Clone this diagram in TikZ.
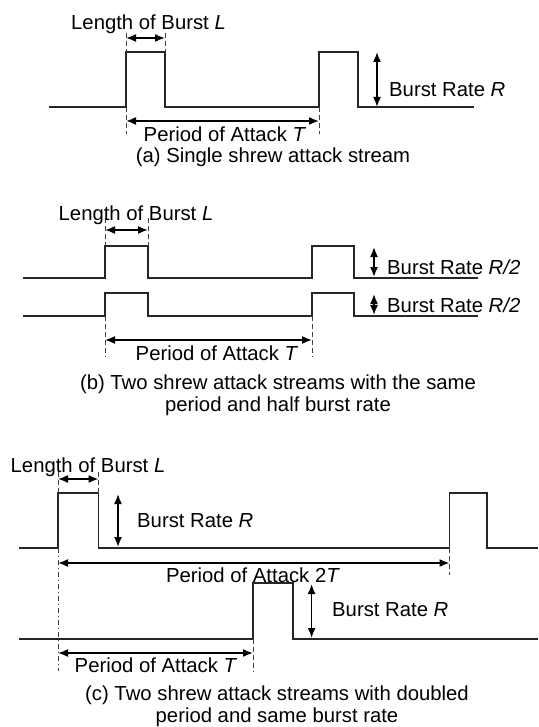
\documentclass[tikz,border=0pt]{standalone}
\usepackage{fontspec}
\setmainfont{Liberation Sans}
\usetikzlibrary{arrows.meta}
\begin{document}
\begin{tikzpicture}[x=1pt,y=-1pt,
  wave/.style={line width=1.2pt,color=black!85},
  dimarrow/.style={line width=1.6pt,{Latex[length=10pt,width=8pt]}-{Latex[length=10pt,width=8pt]}},
  guide/.style={line width=1pt,color=black!75,dash pattern=on 5pt off 3pt},
  guidedd/.style={line width=1pt,color=black!75,dash pattern=on 5pt off 3pt on 1pt off 3pt},
  lab/.style={font=\fontsize{20.3}{24}\selectfont,inner sep=0pt,anchor=base}]
\useasboundingbox (0,0) rectangle (538,727);

% ---------- panel (a) ----------
\coordinate (a1) at (126,52); \coordinate (a2) at (165,52);
\coordinate (a3) at (319,52); \coordinate (a4) at (358,52);
\draw[wave] (49,107) -| (a1) -| (165,107) -| (a3) -| (358,107) -- (474,107);
\coordinate (aRt) at (377,52); \coordinate (aRb) at (377,107);
\draw[dimarrow] (aRt) -- (aRb);
\node[lab,anchor=base west] (aR) at (389,97) {Burst Rate \textit{R}};
\coordinate (aL1t) at (126,33); \coordinate (aL2t) at (165,33);
\draw[guide] (aL1t) -- (a1);
\draw[guide] (aL2t) -- (a2);
\coordinate (aL1) at (126,38); \coordinate (aL2) at (165,38);
\draw[dimarrow] (aL1) -- (aL2);
\node[lab] (aLt) at (148.5,30) {Length of Burst \textit{L}};
\coordinate (aT1t) at (126,107); \coordinate (aT1b) at (126,134);
\coordinate (aT2t) at (319,107); \coordinate (aT2b) at (319,134);
\draw[guide] (aT1t) -- (aT1b);
\draw[guide] (aT2t) -- (aT2b);
\coordinate (aT1) at (126,121); \coordinate (aT2) at (319,121);
\draw[dimarrow] (aT1) -- (aT2);
\node[lab] (aTt) at (225,142) {Period of Attack \textit{T}};
\node[lab] (capa) at (273,163) {(a) Single shrew attack stream};

% ---------- panel (b) ----------
\draw[wave] (23,278) -| (105,246) -| (148,278) -| (312,246) -| (354,278) -- (478,278);
\draw[wave] (23,316) -| (105,293) -| (148,316) -| (312,293) -| (354,316) -- (478,316);
\coordinate (bR1t) at (374,247); \coordinate (bR1b) at (374,277);
\coordinate (bR2t) at (374,294); \coordinate (bR2b) at (374,315);
\draw[dimarrow] (bR1t) -- (bR1b);
\draw[dimarrow] (bR2t) -- (bR2b);
\node[lab,anchor=base west] (bR1) at (387,274) {Burst Rate \textit{R/2}};
\node[lab,anchor=base west] (bR2) at (387,312) {Burst Rate \textit{R/2}};
\coordinate (bL1t) at (105,218); \coordinate (bL1b) at (105,246);
\coordinate (bL2t) at (148,218); \coordinate (bL2b) at (148,246);
\draw[guide] (bL1t) -- (bL1b);
\draw[guide] (bL2t) -- (bL2b);
\coordinate (bL1) at (105,230); \coordinate (bL2) at (148,230);
\draw[dimarrow] (bL1) -- (bL2);
\node[lab] (bLt) at (136,220) {Length of Burst \textit{L}};
\coordinate (bT1t) at (105,316); \coordinate (bT1b) at (105,357);
\coordinate (bT2t) at (312,316); \coordinate (bT2b) at (312,357);
\draw[guide] (bT1t) -- (bT1b);
\draw[guide] (bT2t) -- (bT2b);
\coordinate (bT1) at (105,340); \coordinate (bT2) at (312,340);
\draw[dimarrow] (bT1) -- (bT2);
\node[lab] (bTt) at (217,360) {Period of Attack \textit{T}};
\node[lab] (capb1) at (278,389) {(b) Two shrew attack streams with the same};
\node[lab] (capb2) at (278,411) {period and half burst rate};

% ---------- panel (c) ----------
\draw[wave] (19,548) -| (58,493) -| (98.5,548) -| (449.5,493) -| (487,548) -- (538,548);
\coordinate (cR1t) at (118,494); \coordinate (cR1b) at (118,547);
\draw[dimarrow] (cR1t) -- (cR1b);
\node[lab,anchor=base west] (cR1) at (137,527) {Burst Rate \textit{R}};
\coordinate (cL1t) at (58,472); \coordinate (cL1b) at (58,493);
\coordinate (cL2t) at (98.5,472); \coordinate (cL2b) at (98.5,493);
\draw[guide] (cL1t) -- (cL1b);
\draw[guide] (cL2t) -- (cL2b);
\coordinate (cL1) at (58,479); \coordinate (cL2) at (98.5,479);
\draw[dimarrow] (cL1) -- (cL2);
\node[lab] (cLt) at (88,472) {Length of Burst \textit{L}};
\coordinate (cA) at (58,548); \coordinate (cAb) at (58,671);
\draw[guidedd] (cA) -- (cAb);
\coordinate (cB) at (449.5,548); \coordinate (cBb) at (449.5,575);
\draw[guide] (cB) -- (cBb);
\coordinate (c2T1) at (58,563); \coordinate (c2T2) at (449.5,563);
\draw[dimarrow] (c2T1) -- (c2T2);
\node[lab] (c2Tt) at (253,582) {Period of Attack 2\textit{T}};
\draw[wave] (19,639) -| (253,583) -| (293,639) -- (538,639);
\coordinate (cR2t) at (311.6,584); \coordinate (cR2b) at (311.6,638);
\draw[dimarrow] (cR2t) -- (cR2b);
\node[lab,anchor=base west] (cR2) at (332,616) {Burst Rate \textit{R}};
\coordinate (cC) at (253,639); \coordinate (cCb) at (253,672);
\draw[guide] (cC) -- (cCb);
\coordinate (cT1) at (58,653); \coordinate (cT2) at (253,653);
\draw[dimarrow] (cT1) -- (cT2);
\node[lab] (cTt) at (156,672) {Period of Attack \textit{T}};
\node[lab] (capc1) at (277,700) {(c) Two shrew attack streams with doubled};
\node[lab] (capc2) at (277,722) {period and same burst rate};
\end{tikzpicture}
\end{document}
